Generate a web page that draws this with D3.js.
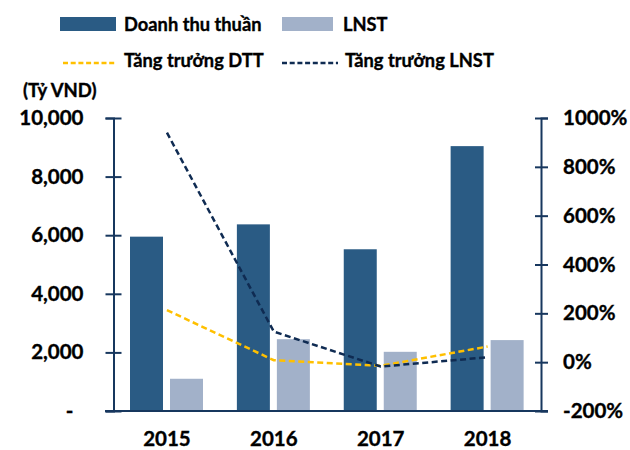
<!DOCTYPE html>
<html>
<head>
<meta charset="utf-8">
<script src="https://cdn.jsdelivr.net/npm/d3@7"></script>
<style>
  html, body { margin: 0; padding: 0; background: #fff; }
  svg { display: block; font-family: Lato, "Open Sans", sans-serif; font-weight: 700; }
  text { stroke: #000; stroke-width: 0.35px; }
</style>
</head>
<body>
<svg id="chart" width="630" height="450"></svg>
<script>
// ---- data ----
const years = ["2015", "2016", "2017", "2018"];
const revenue = [5950, 6370, 5520, 9040];        // Doanh thu thuần (Tỷ VND)
const profit = [1100, 2450, 2020, 2420];          // LNST (Tỷ VND)
const revenueGrowth = [213, 8, -15, 64];          // Tăng trưởng DTT (%)
const profitGrowth = [940, 125, -18, 20];         // Tăng trưởng LNST (%)
const leftTicks = [0, 2000, 4000, 6000, 8000, 10000];
const rightTicks = [-200, 0, 200, 400, 600, 800, 1000];
const seriesNames = ["Doanh thu thuần", "LNST", "Tăng trưởng DTT", "Tăng trưởng LNST"];
const unitLabel = "(Tỷ VND)";

// ---- styles ----
const C_REV = "#2A5B84", C_PROF = "#A2B1C9", C_AXIS = "#17375E";
const C_GREV = "#FFC000", C_GPROF = "#0F2B52";
const FS_AX = 20.5, FS_LG = 18.3;

const svg = d3.select("#chart");
const pLeft = 113.5, pRight = 541, pTop = 118, pBottom = 411;

const x = d3.scaleBand().domain(years).range([pLeft, pRight]).padding(0);
const xs = d3.scaleBand().domain(["rev", "prof"]).range([16.5, 89.5]).paddingInner(0.175);
const y = d3.scaleLinear().domain([0, 10000]).range([pBottom, pTop]);
const y2 = d3.scaleLinear().domain([-200, 1000]).range([pBottom, pTop]);

// bars
const barData = years.map((yr, i) => ({yr, rev: revenue[i], prof: profit[i]}));
const g = svg.append("g");
g.selectAll("rect.rev").data(barData).join("rect").attr("class", "rev")
  .attr("x", d => x(d.yr) + xs("rev")).attr("width", xs.bandwidth())
  .attr("y", d => y(d.rev)).attr("height", d => y(0) - y(d.rev))
  .attr("fill", C_REV);
g.selectAll("rect.prof").data(barData).join("rect").attr("class", "prof")
  .attr("x", d => x(d.yr) + xs("prof")).attr("width", xs.bandwidth())
  .attr("y", d => y(d.prof)).attr("height", d => y(0) - y(d.prof))
  .attr("fill", C_PROF);

// left axis
const axL = svg.append("g").attr("transform", `translate(${pLeft},0)`)
  .call(d3.axisLeft(y).tickValues(leftTicks).tickSizeOuter(0).tickSize(8)
        .tickFormat(d => d === 0 ? "-" : d3.format(",")(d)));
axL.select(".domain").attr("stroke", C_AXIS).attr("stroke-width", 2);
axL.selectAll(".tick line").attr("x1", 8).attr("stroke", C_AXIS).attr("stroke-width", 2);
axL.selectAll(".tick text").attr("x", d => d === 0 ? -40 : -30)
  .attr("font-size", FS_AX).attr("font-family", "Lato").attr("font-weight", 700).attr("fill", "#000");

// right axis
const axR = svg.append("g").attr("transform", `translate(${pRight},0)`)
  .call(d3.axisRight(y2).tickValues(rightTicks).tickSizeOuter(0).tickSize(7)
        .tickFormat(d => d + "%"));
axR.select(".domain").attr("stroke", C_AXIS).attr("stroke-width", 2);
axR.selectAll(".tick line").attr("x1", -6).attr("stroke", C_AXIS).attr("stroke-width", 2);
axR.selectAll(".tick text").attr("x", 22).attr("text-anchor", "start")
  .attr("font-size", FS_AX).attr("font-family", "Lato").attr("font-weight", 700).attr("fill", "#000");

// x axis
const axB = svg.append("g").attr("transform", `translate(0,${pBottom})`)
  .call(d3.axisBottom(x).tickSize(0).tickSizeOuter(0));
axB.select(".domain").attr("d", `M105,0H548`).attr("stroke", C_AXIS).attr("stroke-width", 2);
axB.selectAll(".tick text").attr("y", 34.5).attr("dy", 0)
  .attr("font-size", FS_AX).attr("font-family", "Lato").attr("font-weight", 700).attr("fill", "#000");

// growth lines
const line = d3.line().x(d => x(d[0]) + x.bandwidth() / 2).y(d => y2(d[1]));
svg.append("path").datum(years.map((yr, i) => [yr, revenueGrowth[i]]))
  .attr("d", line).attr("fill", "none").attr("stroke", C_GREV)
  .attr("stroke-width", 2.5).attr("stroke-dasharray", "6,3.5");
svg.append("path").datum(years.map((yr, i) => [yr, profitGrowth[i]]))
  .attr("d", line).attr("fill", "none").attr("stroke", C_GPROF)
  .attr("stroke-width", 2.5).attr("stroke-dasharray", "6,3.5");

// legend
const lg = svg.append("g").attr("font-size", FS_LG).attr("fill", "#000");
lg.append("rect").attr("x", 60).attr("y", 17).attr("width", 56).attr("height", 14).attr("fill", C_REV);
lg.append("text").attr("x", 124).attr("y", 31).text(seriesNames[0]);
lg.append("rect").attr("x", 282).attr("y", 17).attr("width", 51).attr("height", 14).attr("fill", C_PROF);
lg.append("text").attr("x", 343).attr("y", 31).text(seriesNames[1]);
lg.append("line").attr("x1", 63).attr("x2", 115).attr("y1", 63).attr("y2", 63)
  .attr("stroke", C_GREV).attr("stroke-width", 2.5).attr("stroke-dasharray", "5,2.7");
lg.append("text").attr("x", 124).attr("y", 67).text(seriesNames[2]);
lg.append("line").attr("x1", 282).attr("x2", 338).attr("y1", 63).attr("y2", 63)
  .attr("stroke", C_GPROF).attr("stroke-width", 2.5).attr("stroke-dasharray", "5,2.7");
lg.append("text").attr("x", 345).attr("y", 67).text(seriesNames[3]);

// unit label
svg.append("text").attr("x", 23).attr("y", 97).attr("font-size", 18.5).text(unitLabel);
</script>
</body>
</html>
